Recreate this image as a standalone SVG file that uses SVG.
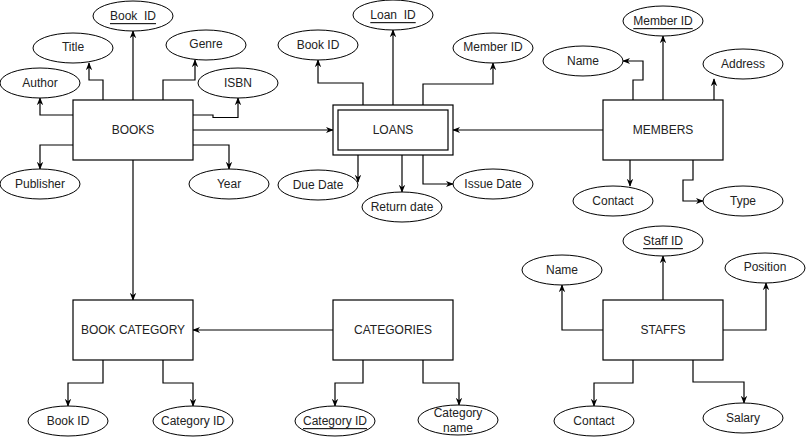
<svg xmlns="http://www.w3.org/2000/svg" width="806" height="437" viewBox="0 0 806 437">
<defs>
<marker id="arr" viewBox="0 0 10 10" refX="9" refY="5" markerWidth="8" markerHeight="8" markerUnits="userSpaceOnUse" orient="auto">
<path d="M0,1 L10,5 L0,9 L3,5 z" fill="#000"/>
</marker>
</defs>
<style>
.ent{fill:#fff;stroke:#000;stroke-width:1.2}
.att{fill:#fff;stroke:#000;stroke-width:1}
text{font-family:"Liberation Sans",Arial,Helvetica,sans-serif;font-size:12px;fill:#222;text-anchor:middle;dominant-baseline:central}
.u{text-decoration:underline}
.c{fill:none;stroke:#000;stroke-width:1.2;marker-end:url(#arr)}
.l{fill:none;stroke:#000;stroke-width:1.2}
</style>
<rect width="806" height="437" fill="#fff"/>
<g id="connectors">
<!-- BOOKS -->
<path class="c" d="M133,100 V31"/>
<path class="c" d="M103,100 V80 H89 V63"/>
<path class="c" d="M73,115 H40 V98"/>
<path class="c" d="M163,100 V80 H195 V60"/>
<path class="c" d="M193,115 H213 V117.5 H238 V98"/>
<path class="c" d="M73,145 H40 V169"/>
<path class="c" d="M193,145 H229 V169"/>
<path class="c" d="M193,130 H333"/>
<path class="c" d="M133,160 V300"/>
<!-- LOANS -->
<path class="c" d="M393,105 V30"/>
<path class="c" d="M363,105 V83 H318 V60"/>
<path class="c" d="M423,105 V84 H493 V63"/>
<path class="c" d="M358,155 V182"/>
<path class="c" d="M402,155 V192"/>
<path class="c" d="M423,155 V184 H453"/>
<!-- MEMBERS -->
<path class="c" d="M603,130 H453"/>
<path class="c" d="M663,100 V36"/>
<path class="c" d="M633,100 V80 H643 V61 H623"/>
<path class="c" d="M714,100 V79"/>
<path class="c" d="M630,160 V186"/>
<path class="c" d="M693,160 V180 H683 V201 H703"/>
<!-- BOOK CATEGORY / CATEGORIES -->
<path class="c" d="M333,330 H193"/>
<path class="c" d="M103,360 V383 H68 V406"/>
<path class="c" d="M163,360 V383 H193 V406"/>
<path class="c" d="M363,360 V383 H335 V406"/>
<path class="c" d="M423,360 V383 H459 V405"/>
<!-- STAFFS -->
<path class="c" d="M663,300 V256"/>
<path class="c" d="M603,330 H562 V285"/>
<path class="c" d="M723,330 H766 V283"/>
<path class="c" d="M633,360 V383 H594 V406"/>
<path class="c" d="M693,360 V382 H744 V403"/>
</g>
<g id="books"><rect class="ent" x="73" y="100" width="120" height="60"/><text x="133" y="130">BOOKS</text></g>
<g id="books-id"><ellipse class="att" cx="133" cy="16" rx="40" ry="15"/><text class="u" x="133" y="16" xml:space="preserve">Book  ID</text></g>
<g id="books-title"><ellipse class="att" cx="73" cy="48" rx="40" ry="15"/><text x="73" y="47">Title</text></g>
<g id="books-author"><ellipse class="att" cx="40" cy="83" rx="40" ry="15"/><text x="40" y="83">Author</text></g>
<g id="books-genre"><ellipse class="att" cx="206" cy="45" rx="40" ry="15"/><text x="206" y="44">Genre</text></g>
<g id="books-isbn"><ellipse class="att" cx="238" cy="83" rx="40" ry="15"/><text x="238" y="83">ISBN</text></g>
<g id="books-publisher"><ellipse class="att" cx="40" cy="184" rx="40" ry="15"/><text x="40" y="184">Publisher</text></g>
<g id="books-year"><ellipse class="att" cx="229" cy="184" rx="40" ry="15"/><text x="229" y="184">Year</text></g>

<g id="loans"><rect class="ent" x="333" y="105" width="120" height="50"/><rect class="ent" x="338" y="110" width="110" height="40"/><text x="393" y="130">LOANS</text></g>
<g id="loans-id"><ellipse class="att" cx="393" cy="15" rx="40" ry="15"/><text class="u" x="393" y="15" xml:space="preserve">Loan  ID</text></g>
<g id="loans-bookid"><ellipse class="att" cx="318" cy="45" rx="40" ry="15"/><text x="318" y="45">Book ID</text></g>
<g id="loans-memberid"><ellipse class="att" cx="493" cy="48" rx="40" ry="15"/><text x="493" y="47">Member ID</text></g>
<g id="loans-duedate"><ellipse class="att" cx="318" cy="185" rx="40" ry="15"/><text x="318" y="185">Due Date</text></g>
<g id="loans-returndate"><ellipse class="att" cx="402" cy="207" rx="40" ry="15"/><text x="402" y="207">Return date</text></g>
<g id="loans-issuedate"><ellipse class="att" cx="493" cy="184" rx="40" ry="15"/><text x="493" y="184">Issue Date</text></g>

<g id="members"><rect class="ent" x="603" y="100" width="120" height="60"/><text x="663" y="130">MEMBERS</text></g>
<g id="members-id"><ellipse class="att" cx="663" cy="21" rx="40" ry="15"/><text class="u" x="663" y="21">Member ID</text></g>
<g id="members-name"><ellipse class="att" cx="583" cy="61" rx="40" ry="15"/><text x="583" y="61">Name</text></g>
<g id="members-address"><ellipse class="att" cx="743" cy="64" rx="40" ry="15"/><text x="743" y="64">Address</text></g>
<g id="members-contact"><ellipse class="att" cx="613" cy="201" rx="40" ry="15"/><text x="613" y="201">Contact</text></g>
<g id="members-type"><ellipse class="att" cx="743" cy="201" rx="40" ry="15"/><text x="743" y="201">Type</text></g>

<g id="bookcategory"><rect class="ent" x="73" y="300" width="120" height="60"/><text x="133" y="330">BOOK CATEGORY</text></g>
<g id="bc-bookid"><ellipse class="att" cx="68" cy="421" rx="40" ry="15"/><text x="68" y="421">Book ID</text></g>
<g id="bc-categoryid"><ellipse class="att" cx="193" cy="421" rx="40" ry="15"/><text x="193" y="421">Category ID</text></g>

<g id="categories"><rect class="ent" x="333" y="300" width="120" height="60"/><text x="393" y="330">CATEGORIES</text></g>
<g id="cat-id"><ellipse class="att" cx="335" cy="421" rx="40" ry="15"/><text class="u" x="335" y="421">Category ID</text></g>
<g id="cat-name"><ellipse class="att" cx="458" cy="420" rx="40" ry="15"/><text x="458" y="413">Category</text><text x="458" y="428">name</text></g>

<g id="staffs"><rect class="ent" x="603" y="300" width="120" height="60"/><text x="663" y="330">STAFFS</text></g>
<g id="staff-id"><ellipse class="att" cx="663" cy="241" rx="40" ry="15"/><text class="u" x="663" y="241">Staff ID</text></g>
<g id="staff-name"><ellipse class="att" cx="562" cy="270" rx="40" ry="15"/><text x="562" y="270">Name</text></g>
<g id="staff-position"><ellipse class="att" cx="765" cy="268" rx="40" ry="15"/><text x="765" y="267">Position</text></g>
<g id="staff-contact"><ellipse class="att" cx="594" cy="421" rx="40" ry="15"/><text x="594" y="421">Contact</text></g>
<g id="staff-salary"><ellipse class="att" cx="743" cy="418" rx="40" ry="15"/><text x="743" y="418">Salary</text></g>
</svg>
